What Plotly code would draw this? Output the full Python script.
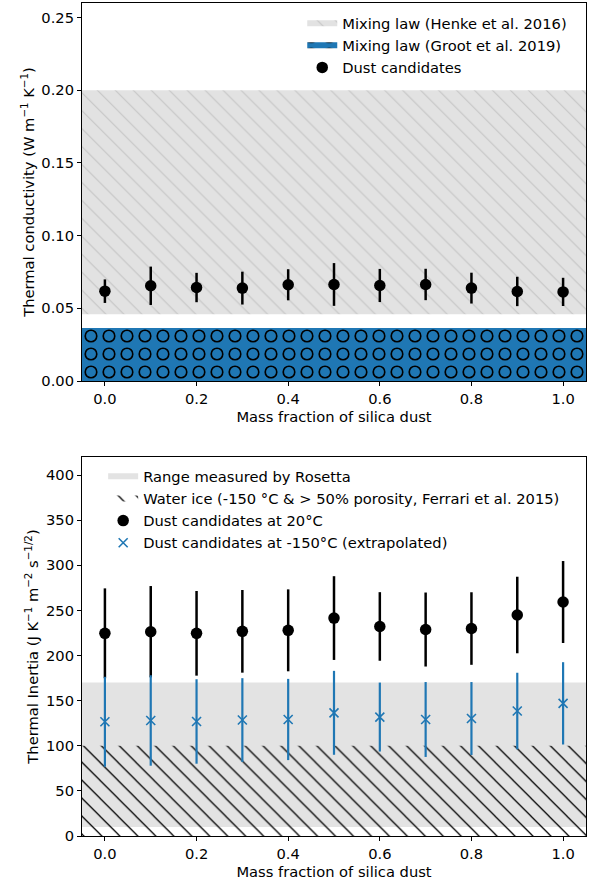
import plotly.graph_objects as go

# ---------------- data ----------------
mass_fraction = [0.0, 0.1, 0.2, 0.3, 0.4, 0.5, 0.6, 0.7, 0.8, 0.9, 1.0]

# top panel: thermal conductivity
k_dust = [0.0618, 0.0655, 0.0643, 0.0639, 0.0662, 0.0664, 0.0657, 0.0664, 0.0639, 0.0616, 0.0613]
k_err = [0.0081, 0.0132, 0.0101, 0.0113, 0.0107, 0.0147, 0.0114, 0.0108, 0.0106, 0.0101, 0.0097]
henke_range = [0.046, 0.20]
groot_range = [0.0, 0.0365]

# bottom panel: thermal inertia
ti_20 = [224.6, 226.4, 224.6, 226.8, 227.9, 241.5, 232.2, 228.8, 229.9, 244.9, 259.3]
ti_20_err = [49.8, 50.6, 46.9, 45.8, 45.4, 46.4, 38.0, 41.0, 40.2, 42.4, 45.4]
ti_150 = [126.6, 128.0, 126.9, 128.5, 129.1, 136.5, 131.8, 129.1, 130.2, 138.5, 147.0]
ti_150_err = [49.8, 50.1, 46.8, 46.4, 45.0, 46.5, 38.2, 41.5, 40.4, 42.4, 45.6]
rosetta_range = [10, 170]
ice_range = [0, 100]

x_span = [-0.05, 1.05]

FONT = "DejaVu Sans"
FS = 14.7
BLUE = "#1f77b4"


def band(xs, yr):
    return [xs[0], xs[1], xs[1], xs[0], xs[0]], [yr[0], yr[0], yr[1], yr[1], yr[0]]


fig = go.Figure()

# ---------- top panel ----------
bx, by = band(x_span, henke_range)
fig.add_trace(go.Scatter(
    x=bx, y=by, mode="none", fill="toself", fillcolor="#e2e2e2",
    fillpattern=dict(shape="\\", fgcolor="#c4c4c4", bgcolor="#e2e2e2", fgopacity=1,
                     size=12.7, solidity=0.08, fillmode="replace"),
    name="Mixing law (Henke et al. 2016)", legend="legend", legendgroup="a",
    xaxis="x", yaxis="y", hoverinfo="skip"))

bx, by = band(x_span, groot_range)
fig.add_trace(go.Scatter(
    x=bx, y=by, mode="none", fill="toself", fillcolor=BLUE,
    fillpattern=dict(shape=".", fgcolor="black", bgcolor=BLUE, fgopacity=1,
                     size=18, solidity=0.422, fillmode="replace"),
    name="Mixing law (Groot et al. 2019)", legend="legend", legendgroup="b",
    xaxis="x", yaxis="y", hoverinfo="skip"))
fig.add_trace(go.Scatter(
    x=bx, y=by, mode="none", fill="toself", fillcolor="rgba(0,0,0,0)",
    fillpattern=dict(shape=".", fgcolor=BLUE, bgcolor="rgba(0,0,0,0)", fgopacity=1,
                     size=18, solidity=0.235, fillmode="overlay"),
    showlegend=False, xaxis="x", yaxis="y", hoverinfo="skip"))

fig.add_trace(go.Scatter(
    x=mass_fraction, y=k_dust, mode="markers",
    marker=dict(color="black", size=11.5),
    error_y=dict(type="data", array=k_err, color="black", thickness=2.5, width=0),
    name="Dust candidates", legend="legend", legendgroup="c",
    xaxis="x", yaxis="y"))

# ---------- bottom panel ----------
bx, by = band(x_span, rosetta_range)
fig.add_trace(go.Scatter(
    x=bx, y=by, mode="none", fill="toself", fillcolor="#e3e3e3",
    name="Range measured by Rosetta", legend="legend2", legendgroup="d",
    xaxis="x2", yaxis="y2", hoverinfo="skip"))

bx, by = band(x_span, ice_range)
fig.add_trace(go.Scatter(
    x=bx, y=by, mode="none", fill="toself", fillcolor="rgba(0,0,0,0)",
    fillpattern=dict(shape="\\", fgcolor="black", bgcolor="rgba(0,0,0,0)", fgopacity=1,
                     size=12.7, solidity=0.1, fillmode="overlay"),
    name="Water ice (-150 °C & > 50% porosity, Ferrari et al. 2015)",
    legend="legend2", legendgroup="e",
    xaxis="x2", yaxis="y2", hoverinfo="skip"))

fig.add_trace(go.Scatter(
    x=mass_fraction, y=ti_20, mode="markers",
    marker=dict(color="black", size=11.5),
    error_y=dict(type="data", array=ti_20_err, color="black", thickness=2.5, width=0),
    name="Dust candidates at 20°C", legend="legend2", legendgroup="f",
    xaxis="x2", yaxis="y2"))

fig.add_trace(go.Scatter(
    x=mass_fraction, y=ti_150, mode="markers",
    marker=dict(color=BLUE, size=9, symbol="x-thin", line=dict(color=BLUE, width=1.6)),
    error_y=dict(type="data", array=ti_150_err, color=BLUE, thickness=2.2, width=0),
    name="Dust candidates at -150°C (extrapolated)", legend="legend2", legendgroup="g",
    xaxis="x2", yaxis="y2"))

axis_common = dict(showline=True, mirror=True, linecolor="black", linewidth=1,
                   ticks="outside", ticklen=4, tickwidth=1, tickcolor="black",
                   showgrid=False, zeroline=False,
                   tickfont=dict(family=FONT, size=FS, color="black"))

fig.update_layout(
    width=593, height=886,
    margin=dict(l=82, r=7, t=3, b=50),
    paper_bgcolor="white", plot_bgcolor="white",
    font=dict(family=FONT, size=FS, color="black"),
    xaxis=dict(domain=[0, 1], anchor="y", range=x_span, tickvals=[0, 0.2, 0.4, 0.6, 0.8, 1.0],
               tickformat=".1f",
               title=dict(text="Mass fraction of silica dust", font=dict(family=FONT, size=FS), standoff=6),
               **axis_common),
    yaxis=dict(domain=[0.5462, 1], anchor="x", range=[0, 0.26],
               tickvals=[0, 0.05, 0.10, 0.15, 0.20, 0.25], tickformat=".2f",
               title=dict(text="Thermal conductivity (W m<sup>−1</sup> K<sup>−1</sup>)",
                          font=dict(family=FONT, size=FS), standoff=3),
               **axis_common),
    xaxis2=dict(domain=[0, 1], anchor="y2", range=x_span, tickvals=[0, 0.2, 0.4, 0.6, 0.8, 1.0],
                tickformat=".1f",
                title=dict(text="Mass fraction of silica dust", font=dict(family=FONT, size=FS), standoff=6),
                **axis_common),
    yaxis2=dict(domain=[0, 0.455], anchor="x2", range=[0, 420],
                tickvals=[0, 50, 100, 150, 200, 250, 300, 350, 400],
                title=dict(text="Thermal Inertia (J K<sup>−1</sup> m<sup>−2</sup> s<sup>−1/2</sup>)",
                           font=dict(family=FONT, size=FS), standoff=3),
                **axis_common),
    legend=dict(x=0.437, y=0.995, xanchor="left", yanchor="top",
                bgcolor="rgba(255,255,255,0)", borderwidth=0,
                font=dict(family=FONT, size=FS), tracegroupgap=0),
    legend2=dict(x=0.042, y=0.451, xanchor="left", yanchor="top",
                 bgcolor="rgba(255,255,255,0)", borderwidth=0,
                 font=dict(family=FONT, size=FS), tracegroupgap=0),
    showlegend=True,
)

fig.write_html("out.html")
